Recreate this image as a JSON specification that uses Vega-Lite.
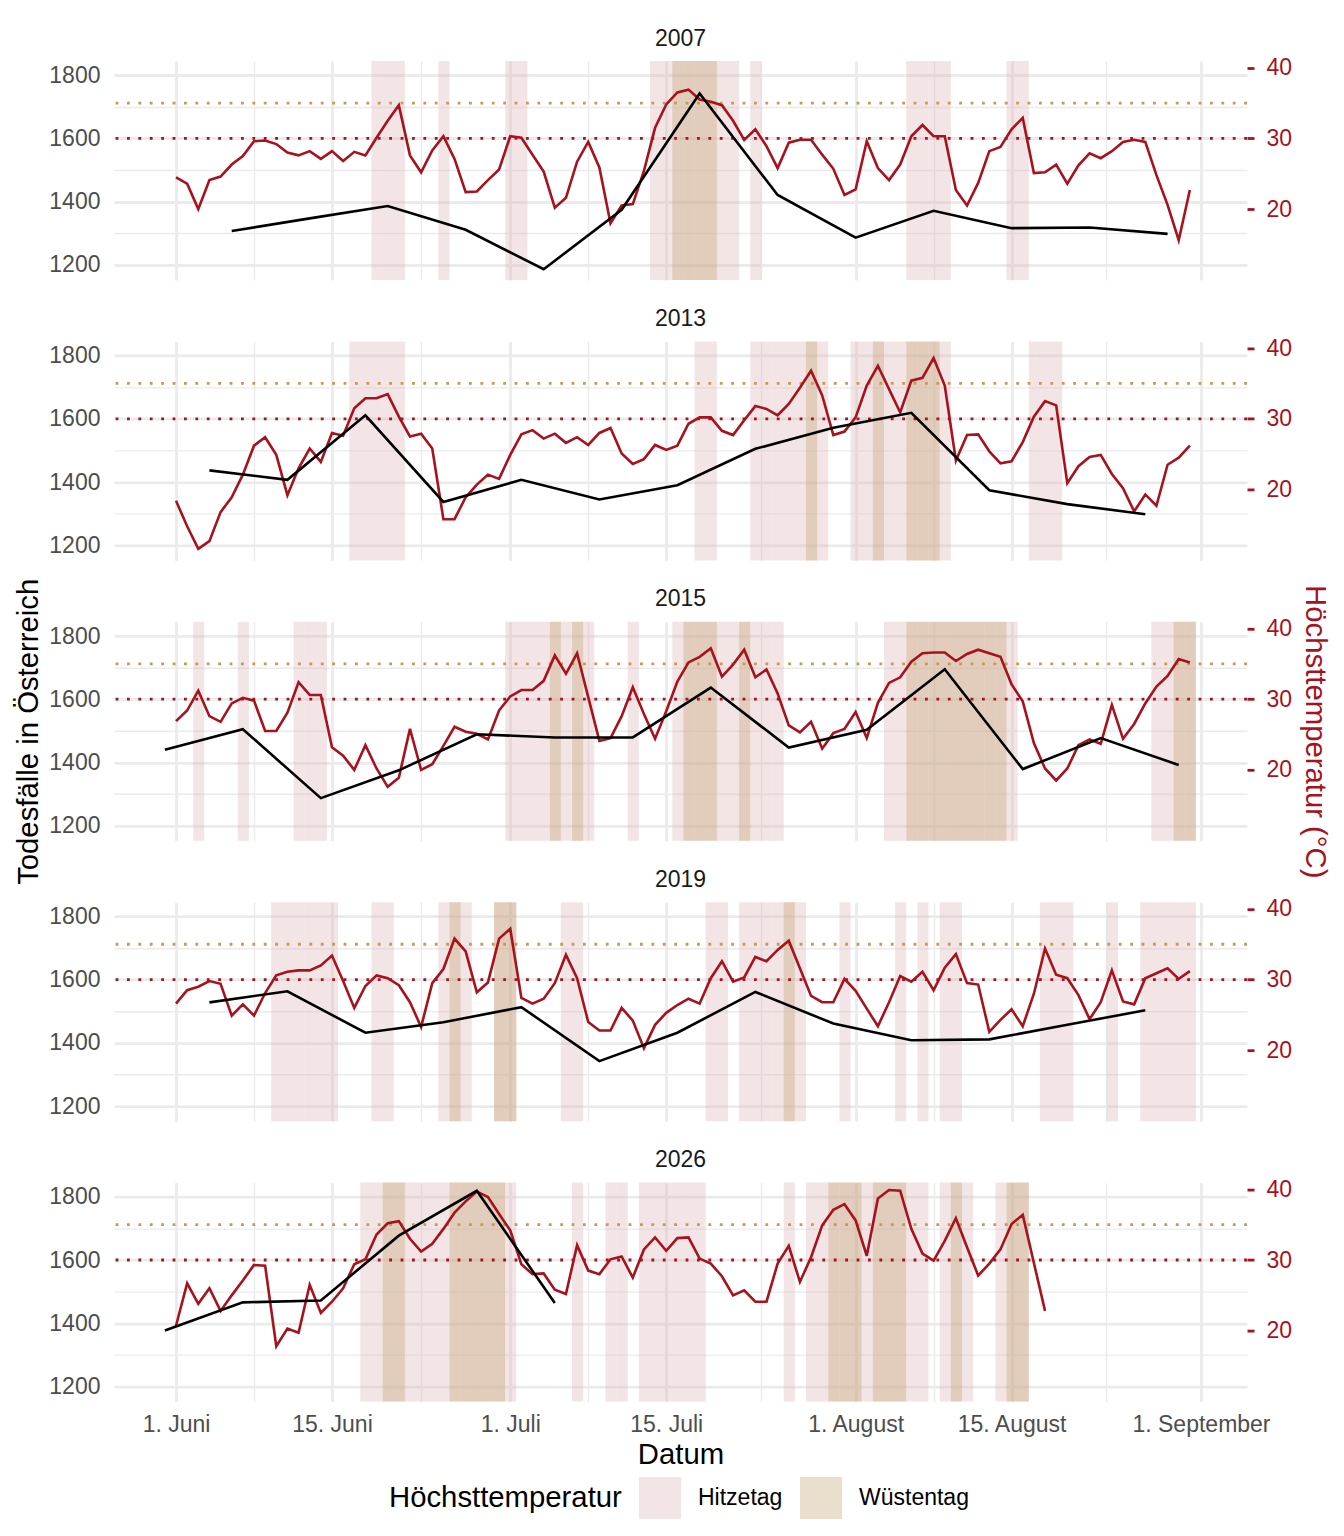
{
  "$schema": "https://vega.github.io/schema/vega-lite/v6.json",
  "background": "white",
  "bounds": "flush",
  "padding": {"left": 14, "top": 27, "right": 5, "bottom": 5},
  "config": {
    "font": "Liberation Sans",
    "view": {"stroke": null},
    "concat": {"spacing": 61.4},
    "title": {"fontSize": 23, "fontWeight": "normal", "color": "#1A1A1A", "anchor": "middle", "offset": 6},
    "axis": {"titleFontWeight": "normal", "titleColor": "#000000", "titleFontSize": 29.3, "labelFontSize": 23, "labelColor": "#4D4D4D"},
    "bar": {"binSpacing": 0},
    "legend": {
      "titleFontSize": 29.3, "titleFontWeight": "normal", "titleColor": "#000000", "titleOrient": "left", "titleLimit": 600,
      "titleBaseline": "middle", "titleAnchor": "middle", "titlePadding": 17,
      "labelFontSize": 23, "labelColor": "#000000", "labelOffset": 17, "columnPadding": 17, "labelLimit": 300,
      "symbolType": "square", "symbolSize": 1764, "symbolStrokeWidth": 0, "symbolOpacity": 0.35
    }
  },
  "datasets": {
    "temp": [
      {"jahr":2007,"tag":"2007-06-01","tmax":24.5},{"jahr":2007,"tag":"2007-06-02","tmax":23.6},{"jahr":2007,"tag":"2007-06-03","tmax":20.0},{"jahr":2007,"tag":"2007-06-04","tmax":24.1},{"jahr":2007,"tag":"2007-06-05","tmax":24.6},
      {"jahr":2007,"tag":"2007-06-06","tmax":26.3},{"jahr":2007,"tag":"2007-06-07","tmax":27.5},{"jahr":2007,"tag":"2007-06-08","tmax":29.6},{"jahr":2007,"tag":"2007-06-09","tmax":29.7},{"jahr":2007,"tag":"2007-06-10","tmax":29.2},
      {"jahr":2007,"tag":"2007-06-11","tmax":28.0},{"jahr":2007,"tag":"2007-06-12","tmax":27.6},{"jahr":2007,"tag":"2007-06-13","tmax":28.2},{"jahr":2007,"tag":"2007-06-14","tmax":27.1},{"jahr":2007,"tag":"2007-06-15","tmax":28.2},
      {"jahr":2007,"tag":"2007-06-16","tmax":26.8},{"jahr":2007,"tag":"2007-06-17","tmax":28.1},{"jahr":2007,"tag":"2007-06-18","tmax":27.6},{"jahr":2007,"tag":"2007-06-19","tmax":30.1},{"jahr":2007,"tag":"2007-06-20","tmax":32.5},
      {"jahr":2007,"tag":"2007-06-21","tmax":34.7},{"jahr":2007,"tag":"2007-06-22","tmax":27.6},{"jahr":2007,"tag":"2007-06-23","tmax":25.2},{"jahr":2007,"tag":"2007-06-24","tmax":28.3},{"jahr":2007,"tag":"2007-06-25","tmax":30.3},
      {"jahr":2007,"tag":"2007-06-26","tmax":27.1},{"jahr":2007,"tag":"2007-06-27","tmax":22.4},{"jahr":2007,"tag":"2007-06-28","tmax":22.5},{"jahr":2007,"tag":"2007-06-29","tmax":24.1},{"jahr":2007,"tag":"2007-06-30","tmax":25.6},
      {"jahr":2007,"tag":"2007-07-01","tmax":30.3},{"jahr":2007,"tag":"2007-07-02","tmax":30.1},{"jahr":2007,"tag":"2007-07-03","tmax":27.7},{"jahr":2007,"tag":"2007-07-04","tmax":25.3},{"jahr":2007,"tag":"2007-07-05","tmax":20.2},
      {"jahr":2007,"tag":"2007-07-06","tmax":21.6},{"jahr":2007,"tag":"2007-07-07","tmax":26.7},{"jahr":2007,"tag":"2007-07-08","tmax":29.5},{"jahr":2007,"tag":"2007-07-09","tmax":25.9},{"jahr":2007,"tag":"2007-07-10","tmax":18.0},
      {"jahr":2007,"tag":"2007-07-11","tmax":20.5},{"jahr":2007,"tag":"2007-07-12","tmax":20.7},{"jahr":2007,"tag":"2007-07-13","tmax":25.4},{"jahr":2007,"tag":"2007-07-14","tmax":31.5},{"jahr":2007,"tag":"2007-07-15","tmax":34.8},
      {"jahr":2007,"tag":"2007-07-16","tmax":36.5},{"jahr":2007,"tag":"2007-07-17","tmax":36.9},{"jahr":2007,"tag":"2007-07-18","tmax":35.5},{"jahr":2007,"tag":"2007-07-19","tmax":35.2},{"jahr":2007,"tag":"2007-07-20","tmax":34.7},
      {"jahr":2007,"tag":"2007-07-21","tmax":32.5},{"jahr":2007,"tag":"2007-07-22","tmax":29.8},{"jahr":2007,"tag":"2007-07-23","tmax":31.3},{"jahr":2007,"tag":"2007-07-24","tmax":28.9},{"jahr":2007,"tag":"2007-07-25","tmax":25.8},
      {"jahr":2007,"tag":"2007-07-26","tmax":29.4},{"jahr":2007,"tag":"2007-07-27","tmax":29.8},{"jahr":2007,"tag":"2007-07-28","tmax":29.8},{"jahr":2007,"tag":"2007-07-29","tmax":27.7},{"jahr":2007,"tag":"2007-07-30","tmax":25.7},
      {"jahr":2007,"tag":"2007-07-31","tmax":22.0},
      {"jahr":2007,"tag":"2007-08-01","tmax":22.8},{"jahr":2007,"tag":"2007-08-02","tmax":29.6},{"jahr":2007,"tag":"2007-08-03","tmax":25.8},{"jahr":2007,"tag":"2007-08-04","tmax":24.1},{"jahr":2007,"tag":"2007-08-05","tmax":26.3},
      {"jahr":2007,"tag":"2007-08-06","tmax":30.3},{"jahr":2007,"tag":"2007-08-07","tmax":31.9},{"jahr":2007,"tag":"2007-08-08","tmax":30.3},{"jahr":2007,"tag":"2007-08-09","tmax":30.3},{"jahr":2007,"tag":"2007-08-10","tmax":22.7},
      {"jahr":2007,"tag":"2007-08-11","tmax":20.5},{"jahr":2007,"tag":"2007-08-12","tmax":23.7},{"jahr":2007,"tag":"2007-08-13","tmax":28.2},{"jahr":2007,"tag":"2007-08-14","tmax":28.8},{"jahr":2007,"tag":"2007-08-15","tmax":31.3},
      {"jahr":2007,"tag":"2007-08-16","tmax":32.9},{"jahr":2007,"tag":"2007-08-17","tmax":25.1},{"jahr":2007,"tag":"2007-08-18","tmax":25.2},{"jahr":2007,"tag":"2007-08-19","tmax":26.3},{"jahr":2007,"tag":"2007-08-20","tmax":23.6},
      {"jahr":2007,"tag":"2007-08-21","tmax":26.2},{"jahr":2007,"tag":"2007-08-22","tmax":27.9},{"jahr":2007,"tag":"2007-08-23","tmax":27.2},{"jahr":2007,"tag":"2007-08-24","tmax":28.2},{"jahr":2007,"tag":"2007-08-25","tmax":29.5},
      {"jahr":2007,"tag":"2007-08-26","tmax":29.8},{"jahr":2007,"tag":"2007-08-27","tmax":29.5},{"jahr":2007,"tag":"2007-08-28","tmax":24.8},{"jahr":2007,"tag":"2007-08-29","tmax":20.6},{"jahr":2007,"tag":"2007-08-30","tmax":15.6},
      {"jahr":2007,"tag":"2007-08-31","tmax":22.7},

      {"jahr":2013,"tag":"2013-06-01","tmax":18.4},{"jahr":2013,"tag":"2013-06-02","tmax":14.8},{"jahr":2013,"tag":"2013-06-03","tmax":11.6},{"jahr":2013,"tag":"2013-06-04","tmax":12.7},{"jahr":2013,"tag":"2013-06-05","tmax":16.8},
      {"jahr":2013,"tag":"2013-06-06","tmax":18.9},{"jahr":2013,"tag":"2013-06-07","tmax":22.1},{"jahr":2013,"tag":"2013-06-08","tmax":26.2},{"jahr":2013,"tag":"2013-06-09","tmax":27.4},{"jahr":2013,"tag":"2013-06-10","tmax":24.9},
      {"jahr":2013,"tag":"2013-06-11","tmax":19.2},{"jahr":2013,"tag":"2013-06-12","tmax":23.0},{"jahr":2013,"tag":"2013-06-13","tmax":25.8},{"jahr":2013,"tag":"2013-06-14","tmax":23.9},{"jahr":2013,"tag":"2013-06-15","tmax":28.0},
      {"jahr":2013,"tag":"2013-06-16","tmax":27.6},{"jahr":2013,"tag":"2013-06-17","tmax":31.5},{"jahr":2013,"tag":"2013-06-18","tmax":32.9},{"jahr":2013,"tag":"2013-06-19","tmax":32.9},{"jahr":2013,"tag":"2013-06-20","tmax":33.5},
      {"jahr":2013,"tag":"2013-06-21","tmax":30.3},{"jahr":2013,"tag":"2013-06-22","tmax":27.5},{"jahr":2013,"tag":"2013-06-23","tmax":27.9},{"jahr":2013,"tag":"2013-06-24","tmax":25.8},{"jahr":2013,"tag":"2013-06-25","tmax":15.8},
      {"jahr":2013,"tag":"2013-06-26","tmax":15.8},{"jahr":2013,"tag":"2013-06-27","tmax":18.9},{"jahr":2013,"tag":"2013-06-28","tmax":20.7},{"jahr":2013,"tag":"2013-06-29","tmax":22.1},{"jahr":2013,"tag":"2013-06-30","tmax":21.5},
      {"jahr":2013,"tag":"2013-07-01","tmax":24.9},{"jahr":2013,"tag":"2013-07-02","tmax":27.8},{"jahr":2013,"tag":"2013-07-03","tmax":28.4},{"jahr":2013,"tag":"2013-07-04","tmax":27.2},{"jahr":2013,"tag":"2013-07-05","tmax":27.9},
      {"jahr":2013,"tag":"2013-07-06","tmax":26.6},{"jahr":2013,"tag":"2013-07-07","tmax":27.4},{"jahr":2013,"tag":"2013-07-08","tmax":26.3},{"jahr":2013,"tag":"2013-07-09","tmax":28.0},{"jahr":2013,"tag":"2013-07-10","tmax":28.7},
      {"jahr":2013,"tag":"2013-07-11","tmax":25.1},{"jahr":2013,"tag":"2013-07-12","tmax":23.6},{"jahr":2013,"tag":"2013-07-13","tmax":24.3},{"jahr":2013,"tag":"2013-07-14","tmax":26.3},{"jahr":2013,"tag":"2013-07-15","tmax":25.6},
      {"jahr":2013,"tag":"2013-07-16","tmax":26.2},{"jahr":2013,"tag":"2013-07-17","tmax":29.3},{"jahr":2013,"tag":"2013-07-18","tmax":30.2},{"jahr":2013,"tag":"2013-07-19","tmax":30.2},{"jahr":2013,"tag":"2013-07-20","tmax":28.3},
      {"jahr":2013,"tag":"2013-07-21","tmax":27.7},{"jahr":2013,"tag":"2013-07-22","tmax":29.8},{"jahr":2013,"tag":"2013-07-23","tmax":31.8},{"jahr":2013,"tag":"2013-07-24","tmax":31.4},{"jahr":2013,"tag":"2013-07-25","tmax":30.5},
      {"jahr":2013,"tag":"2013-07-26","tmax":32.1},{"jahr":2013,"tag":"2013-07-27","tmax":34.4},{"jahr":2013,"tag":"2013-07-28","tmax":36.8},{"jahr":2013,"tag":"2013-07-29","tmax":33.3},{"jahr":2013,"tag":"2013-07-30","tmax":27.7},
      {"jahr":2013,"tag":"2013-07-31","tmax":28.2},
      {"jahr":2013,"tag":"2013-08-01","tmax":30.2},{"jahr":2013,"tag":"2013-08-02","tmax":34.7},{"jahr":2013,"tag":"2013-08-03","tmax":37.5},{"jahr":2013,"tag":"2013-08-04","tmax":34.2},{"jahr":2013,"tag":"2013-08-05","tmax":30.9},
      {"jahr":2013,"tag":"2013-08-06","tmax":35.4},{"jahr":2013,"tag":"2013-08-07","tmax":35.8},{"jahr":2013,"tag":"2013-08-08","tmax":38.6},{"jahr":2013,"tag":"2013-08-09","tmax":34.7},{"jahr":2013,"tag":"2013-08-10","tmax":24.1},
      {"jahr":2013,"tag":"2013-08-11","tmax":27.7},{"jahr":2013,"tag":"2013-08-12","tmax":27.8},{"jahr":2013,"tag":"2013-08-13","tmax":25.4},{"jahr":2013,"tag":"2013-08-14","tmax":23.7},{"jahr":2013,"tag":"2013-08-15","tmax":24.0},
      {"jahr":2013,"tag":"2013-08-16","tmax":26.7},{"jahr":2013,"tag":"2013-08-17","tmax":30.3},{"jahr":2013,"tag":"2013-08-18","tmax":32.5},{"jahr":2013,"tag":"2013-08-19","tmax":31.9},{"jahr":2013,"tag":"2013-08-20","tmax":20.9},
      {"jahr":2013,"tag":"2013-08-21","tmax":23.3},{"jahr":2013,"tag":"2013-08-22","tmax":24.6},{"jahr":2013,"tag":"2013-08-23","tmax":24.9},{"jahr":2013,"tag":"2013-08-24","tmax":22.2},{"jahr":2013,"tag":"2013-08-25","tmax":20.2},
      {"jahr":2013,"tag":"2013-08-26","tmax":16.9},{"jahr":2013,"tag":"2013-08-27","tmax":19.3},{"jahr":2013,"tag":"2013-08-28","tmax":17.7},{"jahr":2013,"tag":"2013-08-29","tmax":23.5},{"jahr":2013,"tag":"2013-08-30","tmax":24.5},
      {"jahr":2013,"tag":"2013-08-31","tmax":26.2},

      {"jahr":2015,"tag":"2015-06-01","tmax":26.9},{"jahr":2015,"tag":"2015-06-02","tmax":28.4},{"jahr":2015,"tag":"2015-06-03","tmax":31.2},{"jahr":2015,"tag":"2015-06-04","tmax":27.6},{"jahr":2015,"tag":"2015-06-05","tmax":26.8},
      {"jahr":2015,"tag":"2015-06-06","tmax":29.4},{"jahr":2015,"tag":"2015-06-07","tmax":30.2},{"jahr":2015,"tag":"2015-06-08","tmax":29.8},{"jahr":2015,"tag":"2015-06-09","tmax":25.5},{"jahr":2015,"tag":"2015-06-10","tmax":25.5},
      {"jahr":2015,"tag":"2015-06-11","tmax":28.1},{"jahr":2015,"tag":"2015-06-12","tmax":32.4},{"jahr":2015,"tag":"2015-06-13","tmax":30.6},{"jahr":2015,"tag":"2015-06-14","tmax":30.6},{"jahr":2015,"tag":"2015-06-15","tmax":23.2},
      {"jahr":2015,"tag":"2015-06-16","tmax":22.0},{"jahr":2015,"tag":"2015-06-17","tmax":20.0},{"jahr":2015,"tag":"2015-06-18","tmax":23.5},{"jahr":2015,"tag":"2015-06-19","tmax":20.2},{"jahr":2015,"tag":"2015-06-20","tmax":17.6},
      {"jahr":2015,"tag":"2015-06-21","tmax":18.9},{"jahr":2015,"tag":"2015-06-22","tmax":25.8},{"jahr":2015,"tag":"2015-06-23","tmax":20.0},{"jahr":2015,"tag":"2015-06-24","tmax":20.8},{"jahr":2015,"tag":"2015-06-25","tmax":23.4},
      {"jahr":2015,"tag":"2015-06-26","tmax":26.1},{"jahr":2015,"tag":"2015-06-27","tmax":25.4},{"jahr":2015,"tag":"2015-06-28","tmax":25.1},{"jahr":2015,"tag":"2015-06-29","tmax":24.3},{"jahr":2015,"tag":"2015-06-30","tmax":28.4},
      {"jahr":2015,"tag":"2015-07-01","tmax":30.4},{"jahr":2015,"tag":"2015-07-02","tmax":31.3},{"jahr":2015,"tag":"2015-07-03","tmax":31.3},{"jahr":2015,"tag":"2015-07-04","tmax":32.6},{"jahr":2015,"tag":"2015-07-05","tmax":36.2},
      {"jahr":2015,"tag":"2015-07-06","tmax":33.6},{"jahr":2015,"tag":"2015-07-07","tmax":36.5},{"jahr":2015,"tag":"2015-07-08","tmax":30.3},{"jahr":2015,"tag":"2015-07-09","tmax":24.1},{"jahr":2015,"tag":"2015-07-10","tmax":24.5},
      {"jahr":2015,"tag":"2015-07-11","tmax":27.6},{"jahr":2015,"tag":"2015-07-12","tmax":31.7},{"jahr":2015,"tag":"2015-07-13","tmax":27.9},{"jahr":2015,"tag":"2015-07-14","tmax":24.4},{"jahr":2015,"tag":"2015-07-15","tmax":28.3},
      {"jahr":2015,"tag":"2015-07-16","tmax":32.5},{"jahr":2015,"tag":"2015-07-17","tmax":35.2},{"jahr":2015,"tag":"2015-07-18","tmax":36.0},{"jahr":2015,"tag":"2015-07-19","tmax":37.2},{"jahr":2015,"tag":"2015-07-20","tmax":33.2},
      {"jahr":2015,"tag":"2015-07-21","tmax":34.9},{"jahr":2015,"tag":"2015-07-22","tmax":37.0},{"jahr":2015,"tag":"2015-07-23","tmax":33.1},{"jahr":2015,"tag":"2015-07-24","tmax":34.2},{"jahr":2015,"tag":"2015-07-25","tmax":30.8},
      {"jahr":2015,"tag":"2015-07-26","tmax":26.3},{"jahr":2015,"tag":"2015-07-27","tmax":25.3},{"jahr":2015,"tag":"2015-07-28","tmax":26.8},{"jahr":2015,"tag":"2015-07-29","tmax":23.0},{"jahr":2015,"tag":"2015-07-30","tmax":25.2},
      {"jahr":2015,"tag":"2015-07-31","tmax":25.8},
      {"jahr":2015,"tag":"2015-08-01","tmax":28.2},{"jahr":2015,"tag":"2015-08-02","tmax":24.5},{"jahr":2015,"tag":"2015-08-03","tmax":29.5},{"jahr":2015,"tag":"2015-08-04","tmax":32.3},{"jahr":2015,"tag":"2015-08-05","tmax":33.1},
      {"jahr":2015,"tag":"2015-08-06","tmax":35.3},{"jahr":2015,"tag":"2015-08-07","tmax":36.5},{"jahr":2015,"tag":"2015-08-08","tmax":36.6},{"jahr":2015,"tag":"2015-08-09","tmax":36.6},{"jahr":2015,"tag":"2015-08-10","tmax":35.4},
      {"jahr":2015,"tag":"2015-08-11","tmax":36.4},{"jahr":2015,"tag":"2015-08-12","tmax":37.0},{"jahr":2015,"tag":"2015-08-13","tmax":36.5},{"jahr":2015,"tag":"2015-08-14","tmax":36.0},{"jahr":2015,"tag":"2015-08-15","tmax":32.1},
      {"jahr":2015,"tag":"2015-08-16","tmax":29.7},{"jahr":2015,"tag":"2015-08-17","tmax":23.8},{"jahr":2015,"tag":"2015-08-18","tmax":20.2},{"jahr":2015,"tag":"2015-08-19","tmax":18.5},{"jahr":2015,"tag":"2015-08-20","tmax":20.2},
      {"jahr":2015,"tag":"2015-08-21","tmax":23.5},{"jahr":2015,"tag":"2015-08-22","tmax":24.3},{"jahr":2015,"tag":"2015-08-23","tmax":23.7},{"jahr":2015,"tag":"2015-08-24","tmax":29.2},{"jahr":2015,"tag":"2015-08-25","tmax":24.4},
      {"jahr":2015,"tag":"2015-08-26","tmax":26.5},{"jahr":2015,"tag":"2015-08-27","tmax":29.4},{"jahr":2015,"tag":"2015-08-28","tmax":31.8},{"jahr":2015,"tag":"2015-08-29","tmax":33.3},{"jahr":2015,"tag":"2015-08-30","tmax":35.7},
      {"jahr":2015,"tag":"2015-08-31","tmax":35.2},

      {"jahr":2019,"tag":"2019-06-01","tmax":26.6},{"jahr":2019,"tag":"2019-06-02","tmax":28.5},{"jahr":2019,"tag":"2019-06-03","tmax":29.0},{"jahr":2019,"tag":"2019-06-04","tmax":29.8},{"jahr":2019,"tag":"2019-06-05","tmax":29.4},
      {"jahr":2019,"tag":"2019-06-06","tmax":24.9},{"jahr":2019,"tag":"2019-06-07","tmax":26.5},{"jahr":2019,"tag":"2019-06-08","tmax":24.9},{"jahr":2019,"tag":"2019-06-09","tmax":28.1},{"jahr":2019,"tag":"2019-06-10","tmax":30.6},
      {"jahr":2019,"tag":"2019-06-11","tmax":31.1},{"jahr":2019,"tag":"2019-06-12","tmax":31.3},{"jahr":2019,"tag":"2019-06-13","tmax":31.3},{"jahr":2019,"tag":"2019-06-14","tmax":32.0},{"jahr":2019,"tag":"2019-06-15","tmax":33.4},
      {"jahr":2019,"tag":"2019-06-16","tmax":29.8},{"jahr":2019,"tag":"2019-06-17","tmax":26.0},{"jahr":2019,"tag":"2019-06-18","tmax":29.1},{"jahr":2019,"tag":"2019-06-19","tmax":30.6},{"jahr":2019,"tag":"2019-06-20","tmax":30.2},
      {"jahr":2019,"tag":"2019-06-21","tmax":29.2},{"jahr":2019,"tag":"2019-06-22","tmax":26.8},{"jahr":2019,"tag":"2019-06-23","tmax":23.3},{"jahr":2019,"tag":"2019-06-24","tmax":29.5},{"jahr":2019,"tag":"2019-06-25","tmax":31.5},
      {"jahr":2019,"tag":"2019-06-26","tmax":35.8},{"jahr":2019,"tag":"2019-06-27","tmax":34.0},{"jahr":2019,"tag":"2019-06-28","tmax":28.2},{"jahr":2019,"tag":"2019-06-29","tmax":29.6},{"jahr":2019,"tag":"2019-06-30","tmax":35.8},
      {"jahr":2019,"tag":"2019-07-01","tmax":37.2},{"jahr":2019,"tag":"2019-07-02","tmax":27.4},{"jahr":2019,"tag":"2019-07-03","tmax":26.6},{"jahr":2019,"tag":"2019-07-04","tmax":27.3},{"jahr":2019,"tag":"2019-07-05","tmax":29.5},
      {"jahr":2019,"tag":"2019-07-06","tmax":33.5},{"jahr":2019,"tag":"2019-07-07","tmax":30.2},{"jahr":2019,"tag":"2019-07-08","tmax":24.0},{"jahr":2019,"tag":"2019-07-09","tmax":22.8},{"jahr":2019,"tag":"2019-07-10","tmax":22.8},
      {"jahr":2019,"tag":"2019-07-11","tmax":26.0},{"jahr":2019,"tag":"2019-07-12","tmax":24.2},{"jahr":2019,"tag":"2019-07-13","tmax":20.3},{"jahr":2019,"tag":"2019-07-14","tmax":23.6},{"jahr":2019,"tag":"2019-07-15","tmax":25.3},
      {"jahr":2019,"tag":"2019-07-16","tmax":26.4},{"jahr":2019,"tag":"2019-07-17","tmax":27.3},{"jahr":2019,"tag":"2019-07-18","tmax":26.6},{"jahr":2019,"tag":"2019-07-19","tmax":30.2},{"jahr":2019,"tag":"2019-07-20","tmax":32.6},
      {"jahr":2019,"tag":"2019-07-21","tmax":29.7},{"jahr":2019,"tag":"2019-07-22","tmax":30.3},{"jahr":2019,"tag":"2019-07-23","tmax":33.2},{"jahr":2019,"tag":"2019-07-24","tmax":32.6},{"jahr":2019,"tag":"2019-07-25","tmax":34.2},
      {"jahr":2019,"tag":"2019-07-26","tmax":35.5},{"jahr":2019,"tag":"2019-07-27","tmax":31.6},{"jahr":2019,"tag":"2019-07-28","tmax":27.7},{"jahr":2019,"tag":"2019-07-29","tmax":26.8},{"jahr":2019,"tag":"2019-07-30","tmax":26.8},
      {"jahr":2019,"tag":"2019-07-31","tmax":30.1},
      {"jahr":2019,"tag":"2019-08-01","tmax":28.4},{"jahr":2019,"tag":"2019-08-02","tmax":25.9},{"jahr":2019,"tag":"2019-08-03","tmax":23.4},{"jahr":2019,"tag":"2019-08-04","tmax":26.8},{"jahr":2019,"tag":"2019-08-05","tmax":30.5},
      {"jahr":2019,"tag":"2019-08-06","tmax":29.7},{"jahr":2019,"tag":"2019-08-07","tmax":31.1},{"jahr":2019,"tag":"2019-08-08","tmax":28.5},{"jahr":2019,"tag":"2019-08-09","tmax":31.7},{"jahr":2019,"tag":"2019-08-10","tmax":33.6},
      {"jahr":2019,"tag":"2019-08-11","tmax":29.5},{"jahr":2019,"tag":"2019-08-12","tmax":29.3},{"jahr":2019,"tag":"2019-08-13","tmax":22.6},{"jahr":2019,"tag":"2019-08-14","tmax":24.3},{"jahr":2019,"tag":"2019-08-15","tmax":25.8},
      {"jahr":2019,"tag":"2019-08-16","tmax":23.4},{"jahr":2019,"tag":"2019-08-17","tmax":28.0},{"jahr":2019,"tag":"2019-08-18","tmax":34.4},{"jahr":2019,"tag":"2019-08-19","tmax":30.7},{"jahr":2019,"tag":"2019-08-20","tmax":30.2},
      {"jahr":2019,"tag":"2019-08-21","tmax":27.8},{"jahr":2019,"tag":"2019-08-22","tmax":24.4},{"jahr":2019,"tag":"2019-08-23","tmax":26.8},{"jahr":2019,"tag":"2019-08-24","tmax":31.3},{"jahr":2019,"tag":"2019-08-25","tmax":26.9},
      {"jahr":2019,"tag":"2019-08-26","tmax":26.5},{"jahr":2019,"tag":"2019-08-27","tmax":30.2},{"jahr":2019,"tag":"2019-08-28","tmax":30.9},{"jahr":2019,"tag":"2019-08-29","tmax":31.6},{"jahr":2019,"tag":"2019-08-30","tmax":30.1},
      {"jahr":2019,"tag":"2019-08-31","tmax":31.2},

      {"jahr":2026,"tag":"2026-06-01","tmax":20.7},{"jahr":2026,"tag":"2026-06-02","tmax":26.7},{"jahr":2026,"tag":"2026-06-03","tmax":23.8},{"jahr":2026,"tag":"2026-06-04","tmax":26.0},{"jahr":2026,"tag":"2026-06-05","tmax":22.8},
      {"jahr":2026,"tag":"2026-06-06","tmax":25.0},{"jahr":2026,"tag":"2026-06-07","tmax":27.1},{"jahr":2026,"tag":"2026-06-08","tmax":29.3},{"jahr":2026,"tag":"2026-06-09","tmax":29.2},{"jahr":2026,"tag":"2026-06-10","tmax":17.8},
      {"jahr":2026,"tag":"2026-06-11","tmax":20.3},{"jahr":2026,"tag":"2026-06-12","tmax":19.7},{"jahr":2026,"tag":"2026-06-13","tmax":26.5},{"jahr":2026,"tag":"2026-06-14","tmax":22.5},{"jahr":2026,"tag":"2026-06-15","tmax":24.1},
      {"jahr":2026,"tag":"2026-06-16","tmax":26.0},{"jahr":2026,"tag":"2026-06-17","tmax":29.4},{"jahr":2026,"tag":"2026-06-18","tmax":30.1},{"jahr":2026,"tag":"2026-06-19","tmax":33.6},{"jahr":2026,"tag":"2026-06-20","tmax":35.2},
      {"jahr":2026,"tag":"2026-06-21","tmax":35.5},{"jahr":2026,"tag":"2026-06-22","tmax":33.0},{"jahr":2026,"tag":"2026-06-23","tmax":31.2},{"jahr":2026,"tag":"2026-06-24","tmax":32.3},{"jahr":2026,"tag":"2026-06-25","tmax":34.4},
      {"jahr":2026,"tag":"2026-06-26","tmax":36.7},{"jahr":2026,"tag":"2026-06-27","tmax":38.3},{"jahr":2026,"tag":"2026-06-28","tmax":39.7},{"jahr":2026,"tag":"2026-06-29","tmax":38.9},{"jahr":2026,"tag":"2026-06-30","tmax":36.5},
      {"jahr":2026,"tag":"2026-07-01","tmax":34.2},{"jahr":2026,"tag":"2026-07-02","tmax":29.4},{"jahr":2026,"tag":"2026-07-03","tmax":28.0},{"jahr":2026,"tag":"2026-07-04","tmax":28.1},{"jahr":2026,"tag":"2026-07-05","tmax":25.8},
      {"jahr":2026,"tag":"2026-07-06","tmax":25.2},{"jahr":2026,"tag":"2026-07-07","tmax":32.1},{"jahr":2026,"tag":"2026-07-08","tmax":28.5},{"jahr":2026,"tag":"2026-07-09","tmax":28.0},{"jahr":2026,"tag":"2026-07-10","tmax":30.1},
      {"jahr":2026,"tag":"2026-07-11","tmax":30.5},{"jahr":2026,"tag":"2026-07-12","tmax":27.5},{"jahr":2026,"tag":"2026-07-13","tmax":31.5},{"jahr":2026,"tag":"2026-07-14","tmax":33.2},{"jahr":2026,"tag":"2026-07-15","tmax":31.3},
      {"jahr":2026,"tag":"2026-07-16","tmax":33.1},{"jahr":2026,"tag":"2026-07-17","tmax":33.2},{"jahr":2026,"tag":"2026-07-18","tmax":30.2},{"jahr":2026,"tag":"2026-07-19","tmax":29.5},{"jahr":2026,"tag":"2026-07-20","tmax":27.7},
      {"jahr":2026,"tag":"2026-07-21","tmax":25.0},{"jahr":2026,"tag":"2026-07-22","tmax":25.7},{"jahr":2026,"tag":"2026-07-23","tmax":24.1},{"jahr":2026,"tag":"2026-07-24","tmax":24.1},{"jahr":2026,"tag":"2026-07-25","tmax":29.5},
      {"jahr":2026,"tag":"2026-07-26","tmax":32.0},{"jahr":2026,"tag":"2026-07-27","tmax":26.9},{"jahr":2026,"tag":"2026-07-28","tmax":30.4},{"jahr":2026,"tag":"2026-07-29","tmax":34.9},{"jahr":2026,"tag":"2026-07-30","tmax":37.1},
      {"jahr":2026,"tag":"2026-07-31","tmax":37.9},
      {"jahr":2026,"tag":"2026-08-01","tmax":35.6},{"jahr":2026,"tag":"2026-08-02","tmax":30.6},{"jahr":2026,"tag":"2026-08-03","tmax":38.7},{"jahr":2026,"tag":"2026-08-04","tmax":39.9},{"jahr":2026,"tag":"2026-08-05","tmax":39.8},
      {"jahr":2026,"tag":"2026-08-06","tmax":34.4},{"jahr":2026,"tag":"2026-08-07","tmax":30.9},{"jahr":2026,"tag":"2026-08-08","tmax":29.9},{"jahr":2026,"tag":"2026-08-09","tmax":32.7},{"jahr":2026,"tag":"2026-08-10","tmax":35.9},
      {"jahr":2026,"tag":"2026-08-11","tmax":31.8},{"jahr":2026,"tag":"2026-08-12","tmax":27.8},{"jahr":2026,"tag":"2026-08-13","tmax":29.5},{"jahr":2026,"tag":"2026-08-14","tmax":31.5},{"jahr":2026,"tag":"2026-08-15","tmax":35.1},
      {"jahr":2026,"tag":"2026-08-16","tmax":36.4},{"jahr":2026,"tag":"2026-08-17","tmax":29.6},{"jahr":2026,"tag":"2026-08-18","tmax":22.8}
    ],
    "tote": [
      {"jahr":2007,"tag":"2007-06-06","tote":1307},{"jahr":2007,"tag":"2007-06-13","tote":1347},{"jahr":2007,"tag":"2007-06-20","tote":1386},{"jahr":2007,"tag":"2007-06-27","tote":1311},
      {"jahr":2007,"tag":"2007-07-04","tote":1186},{"jahr":2007,"tag":"2007-07-11","tote":1374},{"jahr":2007,"tag":"2007-07-18","tote":1742},{"jahr":2007,"tag":"2007-07-25","tote":1421},
      {"jahr":2007,"tag":"2007-08-01","tote":1286},{"jahr":2007,"tag":"2007-08-08","tote":1371},{"jahr":2007,"tag":"2007-08-15","tote":1316},{"jahr":2007,"tag":"2007-08-22","tote":1318},
      {"jahr":2007,"tag":"2007-08-29","tote":1298},
      {"jahr":2013,"tag":"2013-06-04","tote":1437},{"jahr":2013,"tag":"2013-06-11","tote":1407},{"jahr":2013,"tag":"2013-06-18","tote":1611},{"jahr":2013,"tag":"2013-06-25","tote":1337},
      {"jahr":2013,"tag":"2013-07-02","tote":1407},{"jahr":2013,"tag":"2013-07-09","tote":1345},{"jahr":2013,"tag":"2013-07-16","tote":1390},{"jahr":2013,"tag":"2013-07-23","tote":1505},
      {"jahr":2013,"tag":"2013-07-30","tote":1572},{"jahr":2013,"tag":"2013-08-06","tote":1619},{"jahr":2013,"tag":"2013-08-13","tote":1374},{"jahr":2013,"tag":"2013-08-20","tote":1330},
      {"jahr":2013,"tag":"2013-08-27","tote":1298},
      {"jahr":2015,"tag":"2015-05-31","tote":1440},{"jahr":2015,"tag":"2015-06-07","tote":1505},{"jahr":2015,"tag":"2015-06-14","tote":1287},{"jahr":2015,"tag":"2015-06-21","tote":1375},
      {"jahr":2015,"tag":"2015-06-28","tote":1489},{"jahr":2015,"tag":"2015-07-05","tote":1479},{"jahr":2015,"tag":"2015-07-12","tote":1479},{"jahr":2015,"tag":"2015-07-19","tote":1637},
      {"jahr":2015,"tag":"2015-07-26","tote":1447},{"jahr":2015,"tag":"2015-08-02","tote":1503},{"jahr":2015,"tag":"2015-08-09","tote":1695},{"jahr":2015,"tag":"2015-08-16","tote":1379},
      {"jahr":2015,"tag":"2015-08-23","tote":1477},{"jahr":2015,"tag":"2015-08-30","tote":1392},
      {"jahr":2019,"tag":"2019-06-04","tote":1528},{"jahr":2019,"tag":"2019-06-11","tote":1563},{"jahr":2019,"tag":"2019-06-18","tote":1432},{"jahr":2019,"tag":"2019-06-25","tote":1465},
      {"jahr":2019,"tag":"2019-07-02","tote":1513},{"jahr":2019,"tag":"2019-07-09","tote":1342},{"jahr":2019,"tag":"2019-07-16","tote":1432},{"jahr":2019,"tag":"2019-07-23","tote":1561},
      {"jahr":2019,"tag":"2019-07-30","tote":1461},{"jahr":2019,"tag":"2019-08-06","tote":1408},{"jahr":2019,"tag":"2019-08-13","tote":1411},{"jahr":2019,"tag":"2019-08-20","tote":1457},
      {"jahr":2019,"tag":"2019-08-27","tote":1503},
      {"jahr":2026,"tag":"2026-05-31","tote":1377},{"jahr":2026,"tag":"2026-06-07","tote":1466},{"jahr":2026,"tag":"2026-06-14","tote":1472},{"jahr":2026,"tag":"2026-06-21","tote":1677},
      {"jahr":2026,"tag":"2026-06-28","tote":1819},{"jahr":2026,"tag":"2026-07-05","tote":1464}
    ]
  },
  "vconcat": [
    {
      "title": "2007",
      "width": 1133, "height": 219,
      "layer": [
        {"data": {"name": "temp"}, "transform": [{"filter": "datum.jahr == 2007 && datum.tmax >= 30"}],
         "mark": {"type": "bar", "opacity": 0.35, "binSpacing": 0},
         "encoding": {
           "x": {"field": "tag", "timeUnit": "utcmonthdate", "type": "temporal",
                 "scale": {"type": "utc", "nice": false, "domain": [{"year": 2012, "month": 5, "date": 26, "hours": 22, "minutes": 26, "utc": true}, {"year": 2012, "month": 9, "date": 5, "hours": 15, "minutes": 6, "utc": true}]},
                 "axis": {"values": [{"year":2012,"month":6,"date":1,"hours":12,"utc":true},{"year":2012,"month":6,"date":8,"hours":12,"utc":true},{"year":2012,"month":6,"date":15,"hours":12,"utc":true},{"year":2012,"month":6,"date":23,"hours":12,"utc":true},{"year":2012,"month":7,"date":1,"hours":12,"utc":true},{"year":2012,"month":7,"date":8,"hours":12,"utc":true},{"year":2012,"month":7,"date":15,"hours":12,"utc":true},{"year":2012,"month":7,"date":24,"hours":0,"utc":true},{"year":2012,"month":8,"date":1,"hours":12,"utc":true},{"year":2012,"month":8,"date":8,"hours":12,"utc":true},{"year":2012,"month":8,"date":15,"hours":12,"utc":true},{"year":2012,"month":8,"date":24,"hours":0,"utc":true},{"year":2012,"month":9,"date":1,"hours":12,"utc":true}],
                          "grid": true, "gridColor": "#EBEBEB", "gridWidth": {"condition": {"test": "utcdate(datum.value) == 1 || utcdate(datum.value) == 15", "value": 2.8}, "value": 1.4},
                          "labels": false, "ticks": false, "domain": false, "title": null}},
           "y": {"datum": 1152, "type": "quantitative", "scale": {"domain": [1152, 1845], "nice": false, "zero": false},
                 "axis": {"orient": "left", "values": [1200, 1300, 1400, 1500, 1600, 1700, 1800], "format": "d", "labelExpr": "datum.value % 200 == 0 ? datum.label : ''",
                          "grid": true, "gridColor": "#EBEBEB", "gridWidth": {"condition": {"test": "datum.value % 200 == 0", "value": 2.8}, "value": 1.4},
                          "ticks": false, "domain": false, "labelPadding": 14, "title": null}},
           "y2": {"datum": 1845},
           "color": {"datum": "Hitzetag", "type": "nominal", "scale": {"domain": ["Hitzetag", "Wüstentag"], "range": ["#DDB2B8", "#C3A46D"]},
                     "legend": {"title": "Höchsttemperatur", "orient": "none", "direction": "horizontal", "legendX": 275, "legendY": 1416}}
         }},
        {"data": {"name": "temp"}, "transform": [{"filter": "datum.jahr == 2007 && datum.tmax >= 35"}],
         "mark": {"type": "bar", "opacity": 0.35, "binSpacing": 0},
         "encoding": {
           "x": {"field": "tag", "timeUnit": "utcmonthdate", "type": "temporal", "scale": {"type": "utc", "nice": false, "domain": [{"year": 2012, "month": 5, "date": 26, "hours": 22, "minutes": 26, "utc": true}, {"year": 2012, "month": 9, "date": 5, "hours": 15, "minutes": 6, "utc": true}]}, "axis": null},
           "y": {"datum": 1152, "type": "quantitative", "scale": {"domain": [1152, 1845], "nice": false, "zero": false}, "axis": null},
           "y2": {"datum": 1845},
           "color": {"datum": "Wüstentag", "type": "nominal", "scale": {"domain": ["Hitzetag", "Wüstentag"], "range": ["#DDB2B8", "#C3A46D"]},
                     "legend": {"title": "Höchsttemperatur", "orient": "none", "direction": "horizontal", "legendX": 275, "legendY": 1416}}
         }},
        {"data": {"values": [{}]}, "mark": {"type": "rule", "color": "#A6121D", "strokeWidth": 2.8, "strokeDash": [2.8, 8.6]},
         "encoding": {"y": {"datum": 30, "type": "quantitative", "scale": {"domain": [9.97, 40.95], "nice": false, "zero": false}, "axis": null}}},
        {"data": {"values": [{}]}, "mark": {"type": "rule", "color": "#C9994F", "strokeWidth": 2.8, "strokeDash": [2.8, 8.6]},
         "encoding": {"y": {"datum": 35, "type": "quantitative", "scale": {"domain": [9.97, 40.95], "nice": false, "zero": false}, "axis": null}}},
        {"data": {"name": "temp"}, "transform": [{"filter": "datum.jahr == 2007"}],
         "mark": {"type": "line", "color": "#A6121D", "strokeWidth": 2.6},
         "encoding": {
           "x": {"field": "tag", "timeUnit": "utcmonthdate", "type": "temporal", "bandPosition": 0.5, "scale": {"type": "utc", "nice": false, "domain": [{"year": 2012, "month": 5, "date": 26, "hours": 22, "minutes": 26, "utc": true}, {"year": 2012, "month": 9, "date": 5, "hours": 15, "minutes": 6, "utc": true}]}, "axis": null},
           "y": {"field": "tmax", "type": "quantitative", "scale": {"domain": [9.97, 40.95], "nice": false, "zero": false},
                 "axis": {"orient": "right", "values": [20, 30, 40], "grid": false, "domain": false, "ticks": true, "tickSize": 7, "tickWidth": 2.8, "tickColor": "#A6121D", "labelColor": "#A6121D", "labelPadding": 12, "title": null}}
         }},
        {"data": {"name": "tote"}, "transform": [{"filter": "datum.jahr == 2007"}],
         "mark": {"type": "line", "color": "#000000", "strokeWidth": 2.6},
         "encoding": {
           "x": {"field": "tag", "timeUnit": "utcmonthdate", "type": "temporal", "bandPosition": 0.5, "scale": {"type": "utc", "nice": false, "domain": [{"year": 2012, "month": 5, "date": 26, "hours": 22, "minutes": 26, "utc": true}, {"year": 2012, "month": 9, "date": 5, "hours": 15, "minutes": 6, "utc": true}]}, "axis": null},
           "y": {"field": "tote", "type": "quantitative", "scale": {"domain": [1152, 1845], "nice": false, "zero": false}, "axis": null}
         }}
      ],
      "resolve": {"scale": {"y": "independent"}, "axis": {"x": "independent"}}
    },
    {
      "title": "2013",
      "width": 1133, "height": 219,
      "layer": [
        {"data": {"name": "temp"}, "transform": [{"filter": "datum.jahr == 2013 && datum.tmax >= 30"}],
         "mark": {"type": "bar", "opacity": 0.35, "binSpacing": 0},
         "encoding": {
           "x": {"field": "tag", "timeUnit": "utcmonthdate", "type": "temporal",
                 "scale": {"type": "utc", "nice": false, "domain": [{"year": 2012, "month": 5, "date": 26, "hours": 22, "minutes": 26, "utc": true}, {"year": 2012, "month": 9, "date": 5, "hours": 15, "minutes": 6, "utc": true}]},
                 "axis": {"values": [{"year":2012,"month":6,"date":1,"hours":12,"utc":true},{"year":2012,"month":6,"date":8,"hours":12,"utc":true},{"year":2012,"month":6,"date":15,"hours":12,"utc":true},{"year":2012,"month":6,"date":23,"hours":12,"utc":true},{"year":2012,"month":7,"date":1,"hours":12,"utc":true},{"year":2012,"month":7,"date":8,"hours":12,"utc":true},{"year":2012,"month":7,"date":15,"hours":12,"utc":true},{"year":2012,"month":7,"date":24,"hours":0,"utc":true},{"year":2012,"month":8,"date":1,"hours":12,"utc":true},{"year":2012,"month":8,"date":8,"hours":12,"utc":true},{"year":2012,"month":8,"date":15,"hours":12,"utc":true},{"year":2012,"month":8,"date":24,"hours":0,"utc":true},{"year":2012,"month":9,"date":1,"hours":12,"utc":true}],
                          "grid": true, "gridColor": "#EBEBEB", "gridWidth": {"condition": {"test": "utcdate(datum.value) == 1 || utcdate(datum.value) == 15", "value": 2.8}, "value": 1.4},
                          "labels": false, "ticks": false, "domain": false, "title": null}},
           "y": {"datum": 1152, "type": "quantitative", "scale": {"domain": [1152, 1845], "nice": false, "zero": false},
                 "axis": {"orient": "left", "values": [1200, 1300, 1400, 1500, 1600, 1700, 1800], "format": "d", "labelExpr": "datum.value % 200 == 0 ? datum.label : ''",
                          "grid": true, "gridColor": "#EBEBEB", "gridWidth": {"condition": {"test": "datum.value % 200 == 0", "value": 2.8}, "value": 1.4},
                          "ticks": false, "domain": false, "labelPadding": 14, "title": null}},
           "y2": {"datum": 1845},
           "color": {"datum": "Hitzetag", "type": "nominal", "scale": {"domain": ["Hitzetag", "Wüstentag"], "range": ["#DDB2B8", "#C3A46D"]},
                     "legend": {"title": "Höchsttemperatur", "orient": "none", "direction": "horizontal", "legendX": 275, "legendY": 1416}}
         }},
        {"data": {"name": "temp"}, "transform": [{"filter": "datum.jahr == 2013 && datum.tmax >= 35"}],
         "mark": {"type": "bar", "opacity": 0.35, "binSpacing": 0},
         "encoding": {
           "x": {"field": "tag", "timeUnit": "utcmonthdate", "type": "temporal", "scale": {"type": "utc", "nice": false, "domain": [{"year": 2012, "month": 5, "date": 26, "hours": 22, "minutes": 26, "utc": true}, {"year": 2012, "month": 9, "date": 5, "hours": 15, "minutes": 6, "utc": true}]}, "axis": null},
           "y": {"datum": 1152, "type": "quantitative", "scale": {"domain": [1152, 1845], "nice": false, "zero": false}, "axis": null},
           "y2": {"datum": 1845},
           "color": {"datum": "Wüstentag", "type": "nominal", "scale": {"domain": ["Hitzetag", "Wüstentag"], "range": ["#DDB2B8", "#C3A46D"]},
                     "legend": {"title": "Höchsttemperatur", "orient": "none", "direction": "horizontal", "legendX": 275, "legendY": 1416}}
         }},
        {"data": {"values": [{}]}, "mark": {"type": "rule", "color": "#A6121D", "strokeWidth": 2.8, "strokeDash": [2.8, 8.6]},
         "encoding": {"y": {"datum": 30, "type": "quantitative", "scale": {"domain": [9.97, 40.95], "nice": false, "zero": false}, "axis": null}}},
        {"data": {"values": [{}]}, "mark": {"type": "rule", "color": "#C9994F", "strokeWidth": 2.8, "strokeDash": [2.8, 8.6]},
         "encoding": {"y": {"datum": 35, "type": "quantitative", "scale": {"domain": [9.97, 40.95], "nice": false, "zero": false}, "axis": null}}},
        {"data": {"name": "temp"}, "transform": [{"filter": "datum.jahr == 2013"}],
         "mark": {"type": "line", "color": "#A6121D", "strokeWidth": 2.6},
         "encoding": {
           "x": {"field": "tag", "timeUnit": "utcmonthdate", "type": "temporal", "bandPosition": 0.5, "scale": {"type": "utc", "nice": false, "domain": [{"year": 2012, "month": 5, "date": 26, "hours": 22, "minutes": 26, "utc": true}, {"year": 2012, "month": 9, "date": 5, "hours": 15, "minutes": 6, "utc": true}]}, "axis": null},
           "y": {"field": "tmax", "type": "quantitative", "scale": {"domain": [9.97, 40.95], "nice": false, "zero": false},
                 "axis": {"orient": "right", "values": [20, 30, 40], "grid": false, "domain": false, "ticks": true, "tickSize": 7, "tickWidth": 2.8, "tickColor": "#A6121D", "labelColor": "#A6121D", "labelPadding": 12, "title": null}}
         }},
        {"data": {"name": "tote"}, "transform": [{"filter": "datum.jahr == 2013"}],
         "mark": {"type": "line", "color": "#000000", "strokeWidth": 2.6},
         "encoding": {
           "x": {"field": "tag", "timeUnit": "utcmonthdate", "type": "temporal", "bandPosition": 0.5, "scale": {"type": "utc", "nice": false, "domain": [{"year": 2012, "month": 5, "date": 26, "hours": 22, "minutes": 26, "utc": true}, {"year": 2012, "month": 9, "date": 5, "hours": 15, "minutes": 6, "utc": true}]}, "axis": null},
           "y": {"field": "tote", "type": "quantitative", "scale": {"domain": [1152, 1845], "nice": false, "zero": false}, "axis": null}
         }}
      ],
      "resolve": {"scale": {"y": "independent"}, "axis": {"x": "independent"}}
    },
    {
      "title": {"text": "2015", "offset": -33},
      "width": 1133, "height": 219,
      "layer": [
        {"data": {"name": "temp"}, "transform": [{"filter": "datum.jahr == 2015 && datum.tmax >= 30"}],
         "mark": {"type": "bar", "opacity": 0.35, "binSpacing": 0},
         "encoding": {
           "x": {"field": "tag", "timeUnit": "utcmonthdate", "type": "temporal",
                 "scale": {"type": "utc", "nice": false, "domain": [{"year": 2012, "month": 5, "date": 26, "hours": 22, "minutes": 26, "utc": true}, {"year": 2012, "month": 9, "date": 5, "hours": 15, "minutes": 6, "utc": true}]},
                 "axis": {"values": [{"year":2012,"month":6,"date":1,"hours":12,"utc":true},{"year":2012,"month":6,"date":8,"hours":12,"utc":true},{"year":2012,"month":6,"date":15,"hours":12,"utc":true},{"year":2012,"month":6,"date":23,"hours":12,"utc":true},{"year":2012,"month":7,"date":1,"hours":12,"utc":true},{"year":2012,"month":7,"date":8,"hours":12,"utc":true},{"year":2012,"month":7,"date":15,"hours":12,"utc":true},{"year":2012,"month":7,"date":24,"hours":0,"utc":true},{"year":2012,"month":8,"date":1,"hours":12,"utc":true},{"year":2012,"month":8,"date":8,"hours":12,"utc":true},{"year":2012,"month":8,"date":15,"hours":12,"utc":true},{"year":2012,"month":8,"date":24,"hours":0,"utc":true},{"year":2012,"month":9,"date":1,"hours":12,"utc":true}],
                          "grid": true, "gridColor": "#EBEBEB", "gridWidth": {"condition": {"test": "utcdate(datum.value) == 1 || utcdate(datum.value) == 15", "value": 2.8}, "value": 1.4},
                          "labels": false, "ticks": false, "domain": false, "title": null}},
           "y": {"datum": 1152, "type": "quantitative", "scale": {"domain": [1152, 1845], "nice": false, "zero": false},
                 "axis": {"orient": "left", "values": [1200, 1300, 1400, 1500, 1600, 1700, 1800], "format": "d", "labelExpr": "datum.value % 200 == 0 ? datum.label : ''",
                          "grid": true, "gridColor": "#EBEBEB", "gridWidth": {"condition": {"test": "datum.value % 200 == 0", "value": 2.8}, "value": 1.4},
                          "ticks": false, "domain": false, "labelPadding": 14, "title": "Todesfälle in Österreich", "titlePadding": 5}},
           "y2": {"datum": 1845},
           "color": {"datum": "Hitzetag", "type": "nominal", "scale": {"domain": ["Hitzetag", "Wüstentag"], "range": ["#DDB2B8", "#C3A46D"]},
                     "legend": {"title": "Höchsttemperatur", "orient": "none", "direction": "horizontal", "legendX": 275, "legendY": 1416}}
         }},
        {"data": {"name": "temp"}, "transform": [{"filter": "datum.jahr == 2015 && datum.tmax >= 35"}],
         "mark": {"type": "bar", "opacity": 0.35, "binSpacing": 0},
         "encoding": {
           "x": {"field": "tag", "timeUnit": "utcmonthdate", "type": "temporal", "scale": {"type": "utc", "nice": false, "domain": [{"year": 2012, "month": 5, "date": 26, "hours": 22, "minutes": 26, "utc": true}, {"year": 2012, "month": 9, "date": 5, "hours": 15, "minutes": 6, "utc": true}]}, "axis": null},
           "y": {"datum": 1152, "type": "quantitative", "scale": {"domain": [1152, 1845], "nice": false, "zero": false}, "axis": null},
           "y2": {"datum": 1845},
           "color": {"datum": "Wüstentag", "type": "nominal", "scale": {"domain": ["Hitzetag", "Wüstentag"], "range": ["#DDB2B8", "#C3A46D"]},
                     "legend": {"title": "Höchsttemperatur", "orient": "none", "direction": "horizontal", "legendX": 275, "legendY": 1416}}
         }},
        {"data": {"values": [{}]}, "mark": {"type": "rule", "color": "#A6121D", "strokeWidth": 2.8, "strokeDash": [2.8, 8.6]},
         "encoding": {"y": {"datum": 30, "type": "quantitative", "scale": {"domain": [9.97, 40.95], "nice": false, "zero": false}, "axis": null}}},
        {"data": {"values": [{}]}, "mark": {"type": "rule", "color": "#C9994F", "strokeWidth": 2.8, "strokeDash": [2.8, 8.6]},
         "encoding": {"y": {"datum": 35, "type": "quantitative", "scale": {"domain": [9.97, 40.95], "nice": false, "zero": false}, "axis": null}}},
        {"data": {"name": "temp"}, "transform": [{"filter": "datum.jahr == 2015"}],
         "mark": {"type": "line", "color": "#A6121D", "strokeWidth": 2.6},
         "encoding": {
           "x": {"field": "tag", "timeUnit": "utcmonthdate", "type": "temporal", "bandPosition": 0.5, "scale": {"type": "utc", "nice": false, "domain": [{"year": 2012, "month": 5, "date": 26, "hours": 22, "minutes": 26, "utc": true}, {"year": 2012, "month": 9, "date": 5, "hours": 15, "minutes": 6, "utc": true}]}, "axis": null},
           "y": {"field": "tmax", "type": "quantitative", "scale": {"domain": [9.97, 40.95], "nice": false, "zero": false},
                 "axis": {"orient": "right", "values": [20, 30, 40], "grid": false, "domain": false, "ticks": true, "tickSize": 7, "tickWidth": 2.8, "tickColor": "#A6121D", "labelColor": "#A6121D", "labelPadding": 12,
                          "title": "Höchsttemperatur (°C)", "titleColor": "#A6121D", "titlePadding": 8}}
         }},
        {"data": {"name": "tote"}, "transform": [{"filter": "datum.jahr == 2015"}],
         "mark": {"type": "line", "color": "#000000", "strokeWidth": 2.6},
         "encoding": {
           "x": {"field": "tag", "timeUnit": "utcmonthdate", "type": "temporal", "bandPosition": 0.5, "scale": {"type": "utc", "nice": false, "domain": [{"year": 2012, "month": 5, "date": 26, "hours": 22, "minutes": 26, "utc": true}, {"year": 2012, "month": 9, "date": 5, "hours": 15, "minutes": 6, "utc": true}]}, "axis": null},
           "y": {"field": "tote", "type": "quantitative", "scale": {"domain": [1152, 1845], "nice": false, "zero": false}, "axis": null}
         }}
      ],
      "resolve": {"scale": {"y": "independent"}, "axis": {"x": "independent"}}
    },
    {
      "title": "2019",
      "width": 1133, "height": 219,
      "layer": [
        {"data": {"name": "temp"}, "transform": [{"filter": "datum.jahr == 2019 && datum.tmax >= 30"}],
         "mark": {"type": "bar", "opacity": 0.35, "binSpacing": 0},
         "encoding": {
           "x": {"field": "tag", "timeUnit": "utcmonthdate", "type": "temporal",
                 "scale": {"type": "utc", "nice": false, "domain": [{"year": 2012, "month": 5, "date": 26, "hours": 22, "minutes": 26, "utc": true}, {"year": 2012, "month": 9, "date": 5, "hours": 15, "minutes": 6, "utc": true}]},
                 "axis": {"values": [{"year":2012,"month":6,"date":1,"hours":12,"utc":true},{"year":2012,"month":6,"date":8,"hours":12,"utc":true},{"year":2012,"month":6,"date":15,"hours":12,"utc":true},{"year":2012,"month":6,"date":23,"hours":12,"utc":true},{"year":2012,"month":7,"date":1,"hours":12,"utc":true},{"year":2012,"month":7,"date":8,"hours":12,"utc":true},{"year":2012,"month":7,"date":15,"hours":12,"utc":true},{"year":2012,"month":7,"date":24,"hours":0,"utc":true},{"year":2012,"month":8,"date":1,"hours":12,"utc":true},{"year":2012,"month":8,"date":8,"hours":12,"utc":true},{"year":2012,"month":8,"date":15,"hours":12,"utc":true},{"year":2012,"month":8,"date":24,"hours":0,"utc":true},{"year":2012,"month":9,"date":1,"hours":12,"utc":true}],
                          "grid": true, "gridColor": "#EBEBEB", "gridWidth": {"condition": {"test": "utcdate(datum.value) == 1 || utcdate(datum.value) == 15", "value": 2.8}, "value": 1.4},
                          "labels": false, "ticks": false, "domain": false, "title": null}},
           "y": {"datum": 1152, "type": "quantitative", "scale": {"domain": [1152, 1845], "nice": false, "zero": false},
                 "axis": {"orient": "left", "values": [1200, 1300, 1400, 1500, 1600, 1700, 1800], "format": "d", "labelExpr": "datum.value % 200 == 0 ? datum.label : ''",
                          "grid": true, "gridColor": "#EBEBEB", "gridWidth": {"condition": {"test": "datum.value % 200 == 0", "value": 2.8}, "value": 1.4},
                          "ticks": false, "domain": false, "labelPadding": 14, "title": null}},
           "y2": {"datum": 1845},
           "color": {"datum": "Hitzetag", "type": "nominal", "scale": {"domain": ["Hitzetag", "Wüstentag"], "range": ["#DDB2B8", "#C3A46D"]},
                     "legend": {"title": "Höchsttemperatur", "orient": "none", "direction": "horizontal", "legendX": 275, "legendY": 1416}}
         }},
        {"data": {"name": "temp"}, "transform": [{"filter": "datum.jahr == 2019 && datum.tmax >= 35"}],
         "mark": {"type": "bar", "opacity": 0.35, "binSpacing": 0},
         "encoding": {
           "x": {"field": "tag", "timeUnit": "utcmonthdate", "type": "temporal", "scale": {"type": "utc", "nice": false, "domain": [{"year": 2012, "month": 5, "date": 26, "hours": 22, "minutes": 26, "utc": true}, {"year": 2012, "month": 9, "date": 5, "hours": 15, "minutes": 6, "utc": true}]}, "axis": null},
           "y": {"datum": 1152, "type": "quantitative", "scale": {"domain": [1152, 1845], "nice": false, "zero": false}, "axis": null},
           "y2": {"datum": 1845},
           "color": {"datum": "Wüstentag", "type": "nominal", "scale": {"domain": ["Hitzetag", "Wüstentag"], "range": ["#DDB2B8", "#C3A46D"]},
                     "legend": {"title": "Höchsttemperatur", "orient": "none", "direction": "horizontal", "legendX": 275, "legendY": 1416}}
         }},
        {"data": {"values": [{}]}, "mark": {"type": "rule", "color": "#A6121D", "strokeWidth": 2.8, "strokeDash": [2.8, 8.6]},
         "encoding": {"y": {"datum": 30, "type": "quantitative", "scale": {"domain": [9.97, 40.95], "nice": false, "zero": false}, "axis": null}}},
        {"data": {"values": [{}]}, "mark": {"type": "rule", "color": "#C9994F", "strokeWidth": 2.8, "strokeDash": [2.8, 8.6]},
         "encoding": {"y": {"datum": 35, "type": "quantitative", "scale": {"domain": [9.97, 40.95], "nice": false, "zero": false}, "axis": null}}},
        {"data": {"name": "temp"}, "transform": [{"filter": "datum.jahr == 2019"}],
         "mark": {"type": "line", "color": "#A6121D", "strokeWidth": 2.6},
         "encoding": {
           "x": {"field": "tag", "timeUnit": "utcmonthdate", "type": "temporal", "bandPosition": 0.5, "scale": {"type": "utc", "nice": false, "domain": [{"year": 2012, "month": 5, "date": 26, "hours": 22, "minutes": 26, "utc": true}, {"year": 2012, "month": 9, "date": 5, "hours": 15, "minutes": 6, "utc": true}]}, "axis": null},
           "y": {"field": "tmax", "type": "quantitative", "scale": {"domain": [9.97, 40.95], "nice": false, "zero": false},
                 "axis": {"orient": "right", "values": [20, 30, 40], "grid": false, "domain": false, "ticks": true, "tickSize": 7, "tickWidth": 2.8, "tickColor": "#A6121D", "labelColor": "#A6121D", "labelPadding": 12, "title": null}}
         }},
        {"data": {"name": "tote"}, "transform": [{"filter": "datum.jahr == 2019"}],
         "mark": {"type": "line", "color": "#000000", "strokeWidth": 2.6},
         "encoding": {
           "x": {"field": "tag", "timeUnit": "utcmonthdate", "type": "temporal", "bandPosition": 0.5, "scale": {"type": "utc", "nice": false, "domain": [{"year": 2012, "month": 5, "date": 26, "hours": 22, "minutes": 26, "utc": true}, {"year": 2012, "month": 9, "date": 5, "hours": 15, "minutes": 6, "utc": true}]}, "axis": null},
           "y": {"field": "tote", "type": "quantitative", "scale": {"domain": [1152, 1845], "nice": false, "zero": false}, "axis": null}
         }}
      ],
      "resolve": {"scale": {"y": "independent"}, "axis": {"x": "independent"}}
    },
    {
      "title": "2026",
      "width": 1133, "height": 219,
      "layer": [
        {"data": {"name": "temp"}, "transform": [{"filter": "datum.jahr == 2026 && datum.tmax >= 30"}],
         "mark": {"type": "bar", "opacity": 0.35, "binSpacing": 0},
         "encoding": {
           "x": {"field": "tag", "timeUnit": "utcmonthdate", "type": "temporal",
                 "scale": {"type": "utc", "nice": false, "domain": [{"year": 2012, "month": 5, "date": 26, "hours": 22, "minutes": 26, "utc": true}, {"year": 2012, "month": 9, "date": 5, "hours": 15, "minutes": 6, "utc": true}]},
                 "axis": {"values": [{"year":2012,"month":6,"date":1,"hours":12,"utc":true},{"year":2012,"month":6,"date":8,"hours":12,"utc":true},{"year":2012,"month":6,"date":15,"hours":12,"utc":true},{"year":2012,"month":6,"date":23,"hours":12,"utc":true},{"year":2012,"month":7,"date":1,"hours":12,"utc":true},{"year":2012,"month":7,"date":8,"hours":12,"utc":true},{"year":2012,"month":7,"date":15,"hours":12,"utc":true},{"year":2012,"month":7,"date":24,"hours":0,"utc":true},{"year":2012,"month":8,"date":1,"hours":12,"utc":true},{"year":2012,"month":8,"date":8,"hours":12,"utc":true},{"year":2012,"month":8,"date":15,"hours":12,"utc":true},{"year":2012,"month":8,"date":24,"hours":0,"utc":true},{"year":2012,"month":9,"date":1,"hours":12,"utc":true}],
                          "grid": true, "gridColor": "#EBEBEB", "gridWidth": {"condition": {"test": "utcdate(datum.value) == 1 || utcdate(datum.value) == 15", "value": 2.8}, "value": 1.4},
                          "labels": false, "ticks": false, "domain": false, "title": null}},
           "y": {"datum": 1152, "type": "quantitative", "scale": {"domain": [1152, 1845], "nice": false, "zero": false},
                 "axis": {"orient": "left", "values": [1200, 1300, 1400, 1500, 1600, 1700, 1800], "format": "d", "labelExpr": "datum.value % 200 == 0 ? datum.label : ''",
                          "grid": true, "gridColor": "#EBEBEB", "gridWidth": {"condition": {"test": "datum.value % 200 == 0", "value": 2.8}, "value": 1.4},
                          "ticks": false, "domain": false, "labelPadding": 14, "title": null}},
           "y2": {"datum": 1845},
           "color": {"datum": "Hitzetag", "type": "nominal", "scale": {"domain": ["Hitzetag", "Wüstentag"], "range": ["#DDB2B8", "#C3A46D"]},
                     "legend": {"title": "Höchsttemperatur", "orient": "none", "direction": "horizontal", "legendX": 275, "legendY": 1416}}
         }},
        {"data": {"name": "temp"}, "transform": [{"filter": "datum.jahr == 2026 && datum.tmax >= 35"}],
         "mark": {"type": "bar", "opacity": 0.35, "binSpacing": 0},
         "encoding": {
           "x": {"field": "tag", "timeUnit": "utcmonthdate", "type": "temporal", "scale": {"type": "utc", "nice": false, "domain": [{"year": 2012, "month": 5, "date": 26, "hours": 22, "minutes": 26, "utc": true}, {"year": 2012, "month": 9, "date": 5, "hours": 15, "minutes": 6, "utc": true}]}, "axis": null},
           "y": {"datum": 1152, "type": "quantitative", "scale": {"domain": [1152, 1845], "nice": false, "zero": false}, "axis": null},
           "y2": {"datum": 1845},
           "color": {"datum": "Wüstentag", "type": "nominal", "scale": {"domain": ["Hitzetag", "Wüstentag"], "range": ["#DDB2B8", "#C3A46D"]},
                     "legend": {"title": "Höchsttemperatur", "orient": "none", "direction": "horizontal", "legendX": 275, "legendY": 1416}}
         }},
        {"data": {"values": [{}]}, "mark": {"type": "rule", "color": "#A6121D", "strokeWidth": 2.8, "strokeDash": [2.8, 8.6]},
         "encoding": {"y": {"datum": 30, "type": "quantitative", "scale": {"domain": [9.97, 40.95], "nice": false, "zero": false}, "axis": null}}},
        {"data": {"values": [{}]}, "mark": {"type": "rule", "color": "#C9994F", "strokeWidth": 2.8, "strokeDash": [2.8, 8.6]},
         "encoding": {"y": {"datum": 35, "type": "quantitative", "scale": {"domain": [9.97, 40.95], "nice": false, "zero": false}, "axis": null}}},
        {"data": {"name": "temp"}, "transform": [{"filter": "datum.jahr == 2026"}],
         "mark": {"type": "line", "color": "#A6121D", "strokeWidth": 2.6},
         "encoding": {
           "x": {"field": "tag", "timeUnit": "utcmonthdate", "type": "temporal", "bandPosition": 0.5, "scale": {"type": "utc", "nice": false, "domain": [{"year": 2012, "month": 5, "date": 26, "hours": 22, "minutes": 26, "utc": true}, {"year": 2012, "month": 9, "date": 5, "hours": 15, "minutes": 6, "utc": true}]},
                 "axis": {"values": [{"year":2012,"month":6,"date":1,"hours":12,"utc":true},{"year":2012,"month":6,"date":15,"hours":12,"utc":true},{"year":2012,"month":7,"date":1,"hours":12,"utc":true},{"year":2012,"month":7,"date":15,"hours":12,"utc":true},{"year":2012,"month":8,"date":1,"hours":12,"utc":true},{"year":2012,"month":8,"date":15,"hours":12,"utc":true},{"year":2012,"month":9,"date":1,"hours":12,"utc":true}],
                          "orient": "bottom", "grid": false, "ticks": false, "domain": false, "labels": true, "labelOverlap": false, "labelFlush": false, "labelPadding": 12,
                          "labelExpr": "utcdate(datum.value) + '. ' + (utcmonth(datum.value) == 5 ? 'Juni' : utcmonth(datum.value) == 6 ? 'Juli' : utcmonth(datum.value) == 7 ? 'August' : 'September')",
                          "title": "Datum", "titlePadding": 4}},
           "y": {"field": "tmax", "type": "quantitative", "scale": {"domain": [9.97, 40.95], "nice": false, "zero": false},
                 "axis": {"orient": "right", "values": [20, 30, 40], "grid": false, "domain": false, "ticks": true, "tickSize": 7, "tickWidth": 2.8, "tickColor": "#A6121D", "labelColor": "#A6121D", "labelPadding": 12, "title": null}}
         }},
        {"data": {"name": "tote"}, "transform": [{"filter": "datum.jahr == 2026"}],
         "mark": {"type": "line", "color": "#000000", "strokeWidth": 2.6},
         "encoding": {
           "x": {"field": "tag", "timeUnit": "utcmonthdate", "type": "temporal", "bandPosition": 0.5, "scale": {"type": "utc", "nice": false, "domain": [{"year": 2012, "month": 5, "date": 26, "hours": 22, "minutes": 26, "utc": true}, {"year": 2012, "month": 9, "date": 5, "hours": 15, "minutes": 6, "utc": true}]}, "axis": null},
           "y": {"field": "tote", "type": "quantitative", "scale": {"domain": [1152, 1845], "nice": false, "zero": false}, "axis": null}
         }}
      ],
      "resolve": {"scale": {"y": "independent"}, "axis": {"x": "independent"}}
    }
  ]
}
